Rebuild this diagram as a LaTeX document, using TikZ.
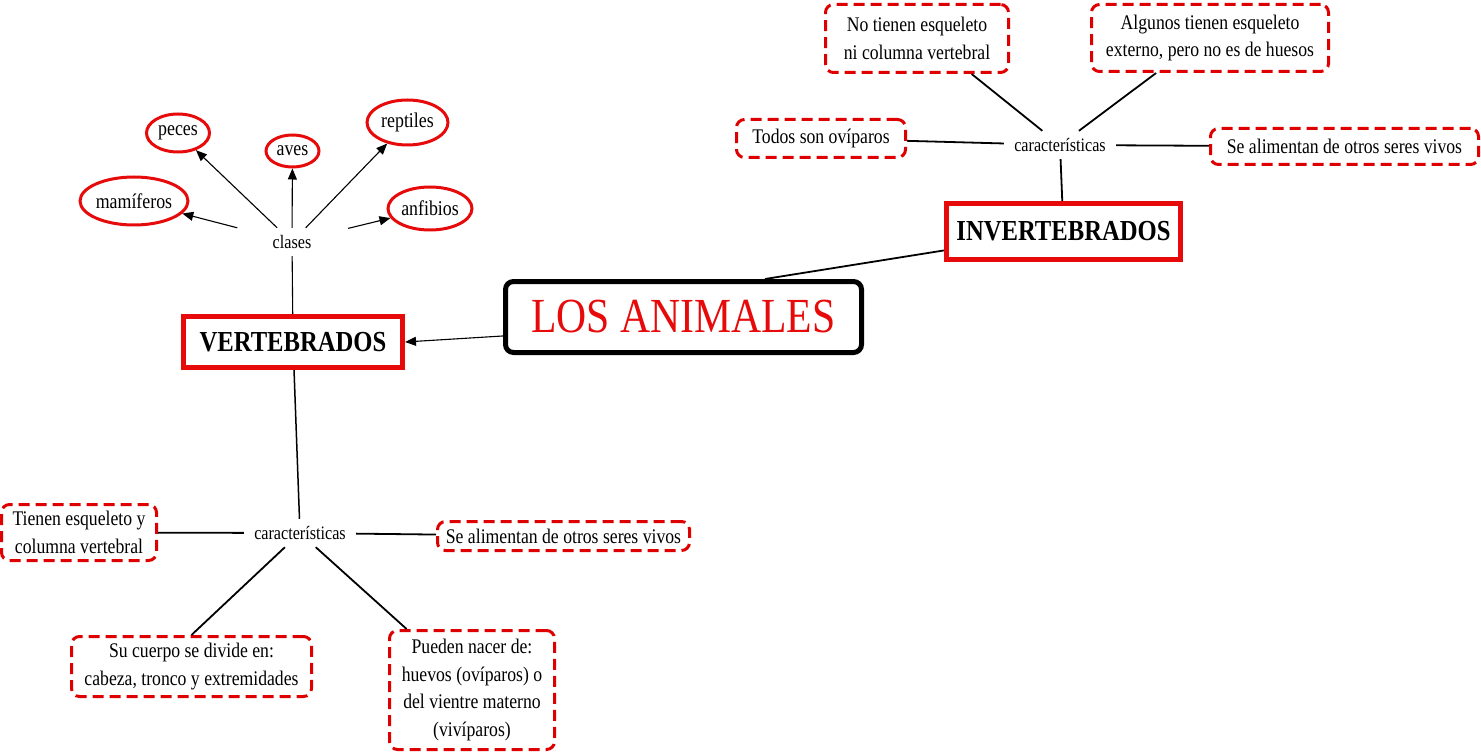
\documentclass[tikz,border=0pt]{standalone}
\usepackage{fontspec}
\setmainfont{Liberation Serif}[FakeStretch=0.85]
\usetikzlibrary{arrows.meta,shapes.geometric}
\definecolor{cred}{RGB}{230,10,10}
\definecolor{dred}{RGB}{222,0,0}
\tikzset{
  titlebox/.style={draw=black, line width=5pt, rounded corners=8pt, inner sep=0pt,
    text=cred, font=\fontsize{49}{55}\selectfont},
  mainbox/.style={draw=cred, line width=5pt, inner sep=0pt,
    font=\bfseries\fontsize{29}{33}\selectfont},
  dbox/.style={draw=dred, line width=3pt, dash pattern=on 11pt off 6pt, rounded corners=8pt,
    inner sep=0pt, align=center, font=\fontsize{20.8}{27.5}\selectfont},
  oval/.style={ellipse, draw=cred, line width=3pt, inner sep=0pt, font=\fontsize{21}{24}\selectfont},
  lbl/.style={minimum width=112pt, minimum height=28pt, inner sep=0pt, font=\fontsize{19}{22}\selectfont},
  conn/.style={line width=1.8pt},
  thin/.style={line width=1.1pt},
  arr/.style={line width=1.1pt, -{Triangle[length=11pt,width=9pt]}}
}
\begin{document}
\begin{tikzpicture}[x=1pt,y=-1pt]
\useasboundingbox (0,0) rectangle (1481,754);
% main nodes
\node[titlebox, minimum width=356pt, minimum height=71pt] (animales) at (683.5,317) {LOS ANIMALES};
\node[mainbox, minimum width=219pt, minimum height=51pt] (vert) at (293,342) {VERTEBRADOS};
\node[mainbox, minimum width=234pt, minimum height=56pt] (invert) at (1063.5,231.5) {INVERTEBRADOS};
% labels
\node[lbl] (clases) at (292,242) {clases};
\node[lbl] (car1) at (1060,145) {características};
\node[lbl] (car2) at (300,533) {características};
% classes
\node[oval, minimum width=63pt, minimum height=38pt] (peces) at (178,133) {peces};
\node[oval, minimum width=53pt, minimum height=32pt] (aves) at (292.5,151) {aves};
\node[oval, minimum width=81pt, minimum height=45pt] (reptiles) at (407.5,122.5) {reptiles};
\node[oval, minimum width=101pt, minimum height=48pt] (mamiferos) at (134,201) {mamíferos};
\node[oval, minimum width=84pt, minimum height=43pt] (anfibios) at (430,208.5) {anfibios};
% invertebrate characteristics
\node[dbox, minimum width=183pt, minimum height=68pt] (notienen) at (917,38.5) {No tienen esqueleto\\ni columna vertebral};
\node[dbox, minimum width=237pt, minimum height=67pt] (algunos) at (1210,38) {Algunos tienen esqueleto\\externo, pero no es de huesos};
\node[dbox, minimum width=169pt, minimum height=38pt] (todos) at (821,138.5) {Todos son ovíparos};
\node[dbox, minimum width=268pt, minimum height=36pt] (sealim1) at (1344.5,146.5) {Se alimentan de otros seres vivos};
% vertebrate characteristics
\node[dbox, minimum width=155pt, minimum height=56pt] (tienen) at (79,532.5) {Tienen esqueleto y\\columna vertebral};
\node[dbox, minimum width=252pt, minimum height=29pt] (sealim2) at (563.5,536) {Se alimentan de otros seres vivos};
\node[dbox, minimum width=240pt, minimum height=60pt] (sucuerpo) at (191.5,666.5) {Su cuerpo se divide en:\\cabeza, tronco y extremidades};
\node[dbox, minimum width=165pt, minimum height=119pt] (pueden) at (472,690) {Pueden nacer de:\\huevos (ovíparos) o\\del vientre materno\\(vivíparos)};
% connectors
\draw[arr] (animales.186.7) -- (vert.east);
\draw[conn] (animales.25.1) -- (invert.189.3);
\draw[thin] (clases) -- (vert);
\draw[arr] (clases) -- (mamiferos);
\draw[arr] (clases) -- (peces);
\draw[arr] (clases) -- (aves);
\draw[arr] (clases) -- (reptiles);
\draw[arr] (clases) -- (anfibios);
\draw[conn] (invert) -- (car1);
\draw[conn] (car1) -- (notienen.-33.4);
\draw[conn] (car1) -- (algunos.-147);
\draw[conn] (car1) -- (todos);
\draw[conn] (car1) -- (sealim1);
\draw[line width=1.5pt] (vert) -- (car2);
\draw[conn] (car2) -- (tienen);
\draw[conn] (car2) -- (sealim2);
\draw[conn] (car2) -- (sucuerpo.north);
\draw[conn] (car2) -- (pueden.137.7);
\end{tikzpicture}
\end{document}
